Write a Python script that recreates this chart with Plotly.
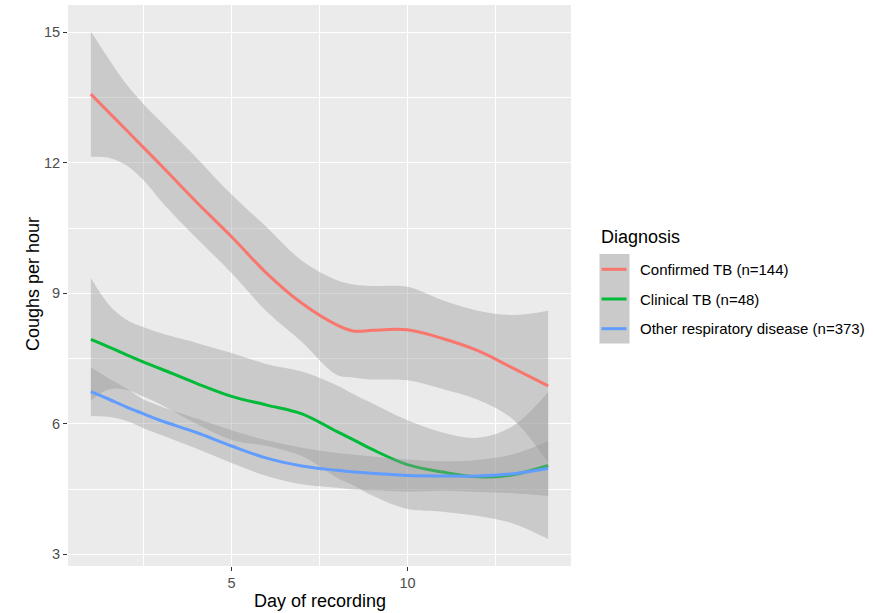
import plotly.graph_objects as go

# ---- data ----
days = [1, 1.5, 2, 2.5, 3, 4, 5, 6, 7, 8, 8.5, 9, 10, 11, 12, 13, 14]

confirmed_fit = [13.58, 13.17, 12.76, 12.35, 11.94, 11.10, 10.30, 9.46, 8.77, 8.27, 8.13, 8.15, 8.16, 7.96, 7.68, 7.28, 6.87]
confirmed_upper = [15.02, 14.40, 13.82, 13.35, 12.94, 12.12, 11.27, 10.52, 9.75, 9.30, 9.20, 9.17, 9.15, 8.84, 8.60, 8.50, 8.60]
confirmed_lower = [12.14, 12.12, 11.95, 11.60, 11.12, 10.27, 9.47, 8.58, 7.88, 7.12, 7.06, 7.02, 7.00, 6.80, 6.55, 6.10, 5.10]

clinical_fit = [7.94, 7.77, 7.59, 7.42, 7.26, 6.93, 6.63, 6.43, 6.23, 5.82, 5.62, 5.41, 5.06, 4.89, 4.78, 4.83, 5.04]
clinical_upper = [9.35, 8.75, 8.40, 8.22, 8.08, 7.86, 7.63, 7.37, 7.20, 6.88, 6.67, 6.47, 6.08, 5.80, 5.68, 5.95, 6.73]
clinical_lower = [6.53, 6.79, 6.78, 6.62, 6.44, 6.00, 5.63, 5.49, 5.26, 4.76, 4.57, 4.35, 4.04, 3.98, 3.88, 3.71, 3.35]

other_fit = [6.74, 6.57, 6.39, 6.23, 6.07, 5.80, 5.49, 5.21, 5.03, 4.93, 4.89, 4.86, 4.81, 4.80, 4.80, 4.85, 4.97]
other_upper = [7.30, 7.05, 6.82, 6.56, 6.40, 6.12, 5.85, 5.62, 5.45, 5.33, 5.29, 5.25, 5.18, 5.14, 5.17, 5.30, 5.60]
other_lower = [6.18, 6.16, 6.07, 5.90, 5.74, 5.43, 5.10, 4.80, 4.61, 4.53, 4.49, 4.47, 4.44, 4.46, 4.43, 4.40, 4.34]

series_names = ["Confirmed TB (n=144)", "Clinical TB (n=48)", "Other respiratory disease (n=373)"]
series_colors = ["#F8766D", "#00BA38", "#619CFF"]

x_ticks = [5, 10]
y_ticks = [3, 6, 9, 12, 15]
x_title = "Day of recording"
y_title = "Coughs per hour"
legend_title = "Diagnosis"

# ---- figure ----
W, H = 873, 613
L, R, T, B = 68, 571, 5, 566  # panel pixel box

fig = go.Figure()
ribbon = "rgba(153,153,153,0.4)"
groups = [
    (confirmed_fit, confirmed_lower, confirmed_upper),
    (clinical_fit, clinical_lower, clinical_upper),
    (other_fit, other_lower, other_upper),
]
for (fit, lo, hi), name, col in zip(groups, series_names, series_colors):
    fig.add_trace(go.Scatter(x=days, y=lo, mode="lines", line=dict(width=0, shape="spline", smoothing=1.0),
                             showlegend=False, hoverinfo="skip"))
    fig.add_trace(go.Scatter(x=days, y=hi, mode="lines", line=dict(width=0, shape="spline", smoothing=1.0),
                             fill="tonexty", fillcolor=ribbon, showlegend=False, hoverinfo="skip"))
    fig.add_trace(go.Scatter(x=days, y=fit, mode="lines", name=name,
                             line=dict(color=col, width=3, shape="spline", smoothing=1.0), showlegend=False))

font_family = "Liberation Sans, Arial, sans-serif"

axis_common = dict(
    showgrid=True, gridcolor="white", gridwidth=1.3, zeroline=False,
    ticks="outside", ticklen=4, tickwidth=1, tickcolor="#333333",
    tickfont=dict(family=font_family, size=14.5, color="#4D4D4D"),
    showline=False,
)
fig.update_xaxes(range=[0.35, 14.65], tickvals=x_ticks,
                 minor=dict(tickvals=[2.5, 7.5, 12.5], showgrid=True, gridcolor="white", gridwidth=0.6, ticks=""),
                 **axis_common)
fig.update_yaxes(range=[2.73, 15.63], tickvals=y_ticks,
                 minor=dict(tickvals=[4.5, 7.5, 10.5, 13.5], showgrid=True, gridcolor="white", gridwidth=0.6, ticks=""),
                 **axis_common)


def px(xp):
    return (xp - L) / (R - L)


def py(yp):
    return (B - yp) / (B - T)


annotations = [
    dict(text=x_title, x=px(319.5), y=py(601), xref="paper", yref="paper", showarrow=False,
         font=dict(family=font_family, size=18, color="black"), xanchor="center", yanchor="middle"),
    dict(text=y_title, x=px(33), y=py(284), xref="paper", yref="paper", showarrow=False, textangle=-90,
         font=dict(family=font_family, size=18, color="black"), xanchor="center", yanchor="middle"),
    dict(text=legend_title, x=px(599), y=py(237), xref="paper", yref="paper", showarrow=False,
         font=dict(family=font_family, size=18, color="black"), xanchor="left", yanchor="middle"),
]
shapes = [
    dict(type="rect", xref="paper", yref="paper", x0=px(599.5), x1=px(629.5), y0=py(254), y1=py(343.5),
         fillcolor="#CACACA", line=dict(width=0), layer="above"),
]
key_y = [269.3, 299, 328.7]
for name, col, ky in zip(series_names, series_colors, key_y):
    shapes.append(dict(type="line", xref="paper", yref="paper", x0=px(601.5), x1=px(626.5), y0=py(ky), y1=py(ky),
                       line=dict(color=col, width=3), layer="above"))
    annotations.append(dict(text=name, x=px(638), y=py(ky), xref="paper", yref="paper", showarrow=False,
                            font=dict(family=font_family, size=15, color="black"), xanchor="left", yanchor="middle"))

fig.update_layout(
    width=W, height=H,
    margin=dict(l=L, r=W - R, t=T, b=H - B, pad=0),
    plot_bgcolor="#EBEBEB", paper_bgcolor="white",
    showlegend=False,
    annotations=annotations, shapes=shapes,
    font=dict(family=font_family),
)

fig.write_html("out.html", config={"displayModeBar": False},
               post_script="document.body.style.margin='0px';document.body.style.overflow='hidden';")
